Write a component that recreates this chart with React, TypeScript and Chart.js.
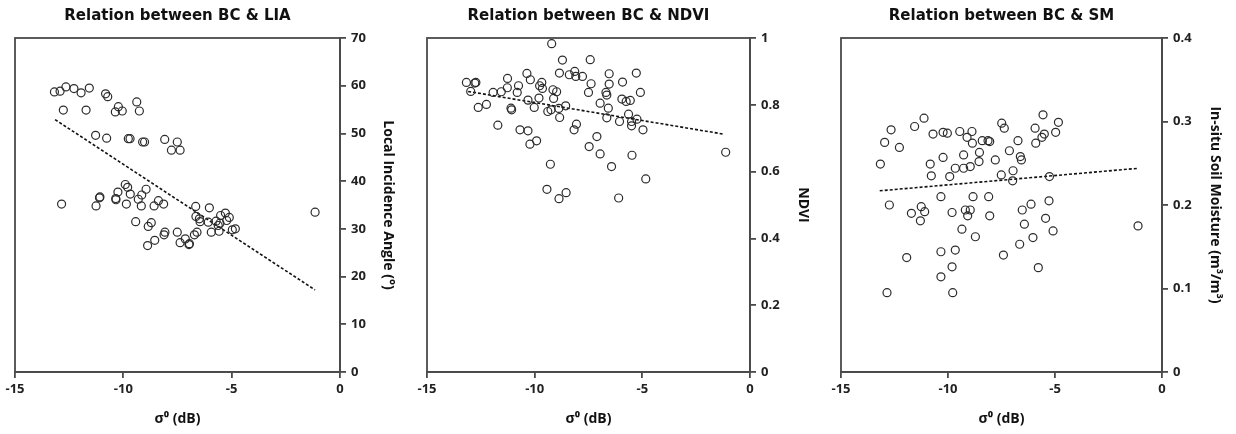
import React, { useEffect, useRef } from "react";
import { Chart, registerables } from "chart.js";
Chart.register(...registerables);

// ---------- Data ----------
const liaX = [-13.18,-12.92,-12.65,-12.28,-11.95,-11.57,-12.77,-11.72,-10.82,-10.72,-10.23,-10.37,-10.05,-9.38,-9.26,-11.28,-10.77,-9.77,-9.69,-9.11,-9.02,-8.09,-7.51,-7.78,-7.38,-1.15,-12.85,-11.26,-11.1,-11.08,-10.34,-10.35,-10.25,-9.91,-9.8,-9.86,-9.68,-9.31,-9.15,-9.17,-8.95,-8.58,-8.38,-8.14,-9.43,-8.85,-8.71,-8.88,-8.55,-8.12,-8.08,-7.51,-7.38,-7.14,-6.95,-6.97,-6.72,-6.6,-6.66,-6.03,-6.65,-6.49,-6.46,-6.08,-5.94,-5.72,-5.54,-5.62,-5.51,-5.29,-5.11,-5.23,-5.58,-4.97,-4.83];
const liaY = [58.7,58.85,59.75,59.4,58.5,59.5,54.9,54.9,58.3,57.7,55.6,54.5,54.7,56.6,54.7,49.6,49.0,48.9,48.9,48.2,48.2,48.75,48.2,46.5,46.5,33.5,35.2,34.8,36.5,36.7,36.1,36.35,37.7,39.3,38.7,35.2,37.3,36.2,37.1,34.8,38.3,34.8,35.9,35.2,31.5,30.5,31.3,26.5,27.6,28.75,29.3,29.3,27.1,27.9,26.9,26.7,28.75,29.3,34.7,34.4,32.6,32.1,31.5,31.4,29.3,31.6,31.2,30.7,32.8,33.3,32.4,31.75,29.5,29.8,30.0];
const liaTrendX = [-13.15, -1.15];
const liaTrendY = [52.9, 17.2];

const ndviX = [-13.17,-12.78,-12.73,-12.97,-12.62,-12.24,-11.93,-11.55,-11.26,-11.27,-10.81,-10.75,-11.1,-11.07,-11.71,-10.68,-10.31,-10.22,-9.91,-10.36,-10.2,-10.31,-10.02,-9.8,-9.77,-9.67,-9.64,-9.15,-8.98,-9.12,-9.39,-9.24,-8.88,-8.56,-8.84,-9.21,-8.71,-8.85,-8.39,-8.14,-8.09,-7.78,-7.42,-7.38,-7.5,-8.06,-8.17,-7.11,-7.47,-6.96,-9.27,-9.43,-8.87,-8.54,-6.96,-6.69,-6.65,-6.54,-6.54,-6.58,-6.65,-6.06,-5.92,-5.95,-5.75,-5.56,-5.28,-5.09,-5.64,-5.5,-5.5,-5.25,-4.97,-6.43,-5.48,-4.84,-6.1,-1.13];
const ndviY = [0.867,0.865,0.867,0.84,0.792,0.801,0.837,0.839,0.879,0.851,0.837,0.857,0.79,0.785,0.739,0.725,0.722,0.682,0.692,0.894,0.875,0.814,0.792,0.82,0.857,0.867,0.849,0.845,0.839,0.819,0.78,0.785,0.789,0.797,0.762,0.983,0.934,0.895,0.89,0.9,0.885,0.885,0.935,0.863,0.837,0.742,0.725,0.705,0.675,0.653,0.622,0.547,0.519,0.537,0.805,0.837,0.829,0.893,0.862,0.79,0.761,0.75,0.868,0.817,0.81,0.813,0.895,0.837,0.772,0.75,0.737,0.757,0.725,0.615,0.649,0.578,0.521,0.658];
const ndviTrendX = [-13.09, -1.21];
const ndviTrendY = [0.84, 0.712];

const smX = [-13.16,-12.96,-12.66,-12.27,-12.74,-11.56,-11.12,-10.7,-10.23,-10.03,-10.83,-10.78,-10.23,-9.92,-9.66,-9.27,-8.96,-9.27,-9.45,-9.11,-8.88,-8.86,-8.53,-8.55,-8.4,-8.13,-8.05,-7.79,-7.49,-7.37,-7.13,-6.73,-7.51,-6.96,-6.98,-6.62,-6.57,-5.93,-5.9,-5.61,-5.5,-5.56,-4.97,-4.84,-5.26,-10.33,-8.83,-8.1,-5.28,-6.12,-11.71,-11.25,-11.09,-11.29,-9.81,-9.19,-8.96,-9.08,-8.05,-9.35,-8.72,-6.53,-6.43,-5.44,-5.09,-6.03,-6.65,-7.41,-5.78,-11.93,-10.33,-9.66,-9.81,-10.33,-12.85,-9.78,-1.12];
const smY = [0.249,0.275,0.29,0.269,0.2,0.294,0.304,0.285,0.287,0.286,0.249,0.235,0.257,0.234,0.244,0.244,0.246,0.26,0.288,0.281,0.288,0.274,0.263,0.252,0.277,0.277,0.276,0.254,0.298,0.292,0.265,0.277,0.236,0.241,0.229,0.258,0.254,0.292,0.274,0.281,0.285,0.308,0.287,0.299,0.234,0.21,0.21,0.21,0.205,0.201,0.19,0.198,0.192,0.181,0.191,0.194,0.194,0.187,0.187,0.171,0.162,0.194,0.177,0.184,0.169,0.161,0.153,0.14,0.125,0.137,0.144,0.146,0.126,0.114,0.095,0.095,0.175];
const smTrendX = [-13.19, -1.09];
const smTrendY = [0.217, 0.244];

const xTicks = [-15, -10, -5, 0];
const titles = ["Relation between BC & LIA", "Relation between BC & NDVI", "Relation between BC & SM"];
const yTitles = ["Local Incidence Angle (°)", "NDVI", "In-situ Soil Moisture (m³/m³)"];
const xTitle = "σ⁰ (dB)";

const FONT = "'Open Sans', 'Noto Sans', sans-serif";
const TITLE_FONT = "'DejaVu Sans', 'Open Sans', sans-serif";
const AXIS = "#4a4a4a";

type PanelCfg = {
  left: number;
  xs: number[];
  ys: number[];
  tx: number[];
  ty: number[];
  title: string;
  yTitle: string;
  yMax: number;
  yStep: number;
  padRight: number;
  yTitlePad: number;
};

const frame = {
  id: "frame",
  afterDraw(chart: any) {
    const { ctx, chartArea } = chart;
    ctx.save();
    ctx.strokeStyle = AXIS;
    ctx.lineWidth = 1.8;
    ctx.strokeRect(chartArea.left, chartArea.top, chartArea.right - chartArea.left, chartArea.bottom - chartArea.top);
    ctx.restore();
  },
};

const fmt = (v: number | string) => String(Number(Number(v).toFixed(3)));

function Panel({ cfg }: { cfg: PanelCfg }) {
  const ref = useRef<HTMLCanvasElement>(null);
  useEffect(() => {
    if (!ref.current) return;
    const pts = cfg.xs.map((x, i) => ({ x, y: cfg.ys[i] }));
    const trend = cfg.tx.map((x, i) => ({ x, y: cfg.ty[i] }));
    const chart = new Chart(ref.current, {
      type: "scatter",
      data: {
        datasets: [
          {
            data: pts,
            pointStyle: "circle",
            pointRadius: 4,
            pointBorderWidth: 1.2,
            borderColor: "#2b2b2b",
            backgroundColor: "rgba(0,0,0,0)",
            showLine: false,
          },
          {
            data: trend,
            showLine: true,
            pointRadius: 0,
            borderColor: "#111",
            borderWidth: 1.6,
            borderDash: [3, 2],
            fill: false,
          },
        ],
      },
      options: {
        responsive: false,
        animation: false,
        layout: { padding: { left: 15, right: cfg.padRight, top: 0, bottom: 4 } },
        plugins: {
          legend: { display: false },
          tooltip: { enabled: false },
          title: {
            display: true,
            fullSize: false,
            text: cfg.title,
            color: "#111",
            font: { family: TITLE_FONT, size: 15, weight: "bold" },
            padding: { top: 7, bottom: 13 },
          },
        },
        scales: {
          x: {
            type: "linear",
            position: "bottom",
            min: -15,
            max: 0,
            afterFit: (s: any) => { s.height = 58; },
            afterBuildTicks: (s: any) => { s.ticks = xTicks.map((v) => ({ value: v })); },
            ticks: { color: "#222", font: { family: FONT, size: 13, weight: "bold" }, padding: 3, maxRotation: 0, callback: (v: any) => fmt(v) },
            grid: { display: true, drawOnChartArea: false, drawTicks: true, tickLength: 6, color: AXIS, lineWidth: 1.8 },
            border: { display: true, color: AXIS, width: 1.8 },
            title: {
              display: true,
              text: xTitle,
              color: "#111",
              font: { family: FONT, size: 14, weight: "bold" },
              padding: { top: 0, bottom: 3 },
            },
          },
          y: {
            type: "linear",
            position: "right",
            min: 0,
            max: cfg.yMax,
            afterFit: (s: any) => { s.width = 62; },
            ticks: { stepSize: cfg.yStep, color: "#222", font: { family: FONT, size: 13, weight: "bold" }, padding: 5, callback: (v: any) => fmt(v) },
            grid: { display: true, drawOnChartArea: false, drawTicks: true, tickLength: 6, color: AXIS, lineWidth: 1.8 },
            border: { display: true, color: AXIS, width: 1.8 },
            title: {
              display: true,
              text: cfg.yTitle,
              color: "#111",
              font: { family: FONT, size: 14, weight: "bold" },
              padding: { top: cfg.yTitlePad, bottom: 0 },
            },
          },
        },
      },
      plugins: [frame],
    });
    return () => chart.destroy();
  }, [cfg]);
  return (
    <div style={{ position: "absolute", left: cfg.left, top: 0, width: 410, height: 434 }}>
      <canvas ref={ref} width={410} height={434} />
    </div>
  );
}

const panels: PanelCfg[] = [
  { left: 0, xs: liaX, ys: liaY, tx: liaTrendX, ty: liaTrendY, title: titles[0], yTitle: yTitles[0], yMax: 70, yStep: 10, padRight: 8, yTitlePad: 5.5 },
  { left: 412, xs: ndviX, ys: ndviY, tx: ndviTrendX, ty: ndviTrendY, title: titles[1], yTitle: yTitles[1], yMax: 1, yStep: 0.2, padRight: 10, yTitlePad: 0.5 },
  { left: 826, xs: smX, ys: smY, tx: smTrendX, ty: smTrendY, title: titles[2], yTitle: yTitles[2], yMax: 0.4, yStep: 0.1, padRight: 12, yTitlePad: 0.5 },
];

export default function App() {
  return (
    <div style={{ position: "absolute", left: 0, top: 0, width: 1236, height: 434, background: "#fff", overflow: "hidden" }}>
      {panels.map((p, i) => (
        <Panel key={i} cfg={p} />
      ))}
    </div>
  );
}
